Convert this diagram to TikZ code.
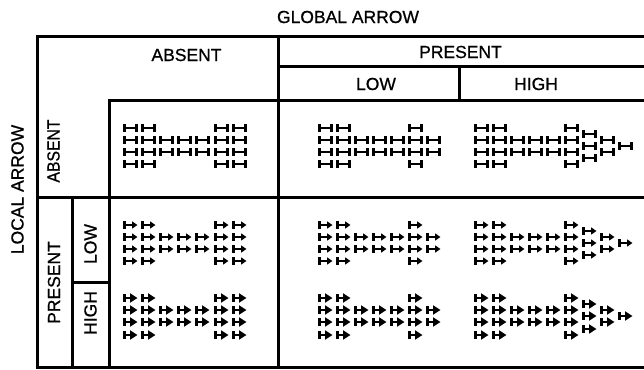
\documentclass[tikz,border=0pt]{standalone}
\usepackage{fontspec}
\setmainfont{Liberation Sans}
\newfontfamily\lblfont{Liberation Sans}[FakeBold=0.8]
\usetikzlibrary{arrows.meta}
\tikzset{
  gridline/.style={line width=3pt, line cap=rect, line join=miter},
  lbl/.style={font=\lblfont\fontsize{17.5}{20}\selectfont, inner sep=0pt, text=black},
  absglyph/.style={line width=2.6pt, arrows={Bar[width=7.5pt,line width=3pt]-Bar[width=7.5pt,line width=3pt]}},
  lowglyph/.style={line width=2.6pt, arrows={Bar[width=7.5pt,line width=3pt]-Triangle[width=7pt,length=5.5pt]}},
  highglyph/.style={line width=2.6pt, arrows={Bar[width=7.5pt,line width=3pt]-Triangle[width=9pt,length=7.5pt]}}
}
% #1 x of first column, #2 y of centre, #3 glyph style, #4 extra columns
\newcommand{\fieldpat}[4]{%
  \foreach \c/\r in {0/-1.5,0/-0.5,0/0.5,0/1.5,1/-1.5,1/-0.5,1/0.5,1/1.5,
                     2/-0.5,2/0.5,3/-0.5,3/0.5,4/-0.5,4/0.5,
                     5/-1.5,5/-0.5,5/0.5,5/1.5,#4}
    {\draw[#3] ({round(#1+\c*18.1)-7.5},{round(#2+\r*12.2)}) -- ({round(#1+\c*18.1)+7.5},{round(#2+\r*12.2)});}%
}
\begin{document}
\begin{tikzpicture}[x=1pt,y=-1pt]
\useasboundingbox (0,0) rectangle (644,369);
\fill[white] (0,0) rectangle (644,369);
% grid
\draw[gridline] (660,37) -- (37,37) -- (37,367) -- (660,367);
\draw[gridline] (278,37) -- (278,367);
\draw[gridline] (278,66) -- (660,66);
\draw[gridline] (459,66) -- (459,100);
\draw[gridline] (109,100) -- (660,100);
\draw[gridline] (109,100) -- (109,367);
\draw[gridline] (37,197) -- (660,197);
\draw[gridline] (72,197) -- (72,367);
\draw[gridline] (72,282) -- (109,282);
% labels
\node[lbl] (glob) at (348,17) {GLOBAL ARROW};
\node[lbl] (gabs) at (186.5,55) {ABSENT};
\node[lbl] (gpres) at (460.5,52) {PRESENT};
\node[lbl] (glow) at (376,84) {LOW};
\node[lbl] (ghigh) at (536,84) {HIGH};
\node[lbl,rotate=90] (loc) at (17.5,189.5) {LOCAL ARROW};
\node[lbl,rotate=90] (labs) at (53.5,151) {\scalebox{0.9}[1]{ABSENT}};
\node[lbl,rotate=90] (lpres) at (54,282.5) {PRESENT};
\node[lbl,rotate=90] (llow) at (90.5,244) {LOW};
\node[lbl,rotate=90] (lhigh) at (90.5,313) {HIGH};
% local absent row
\fieldpat{130}{146.2}{absglyph}{6/-1.5,6/-0.5,6/0.5,6/1.5}
\fieldpat{324.5}{146.2}{absglyph}{6/-0.5,6/0.5}
\fieldpat{480.5}{146.2}{absglyph}{6/-1,6/0,6/1,7/-0.5,7/0.5,8/0}
% local low row
\fieldpat{130}{243.2}{lowglyph}{6/-1.5,6/-0.5,6/0.5,6/1.5}
\fieldpat{324.5}{243.2}{lowglyph}{6/-0.5,6/0.5}
\fieldpat{480.5}{243.2}{lowglyph}{6/-1,6/0,6/1,7/-0.5,7/0.5,8/0}
% local high row
\fieldpat{130}{316.3}{highglyph}{6/-1.5,6/-0.5,6/0.5,6/1.5}
\fieldpat{324.5}{316.3}{highglyph}{6/-0.5,6/0.5}
\fieldpat{480.5}{316.3}{highglyph}{6/-1,6/0,6/1,7/-0.5,7/0.5,8/0}
\end{tikzpicture}
\end{document}
